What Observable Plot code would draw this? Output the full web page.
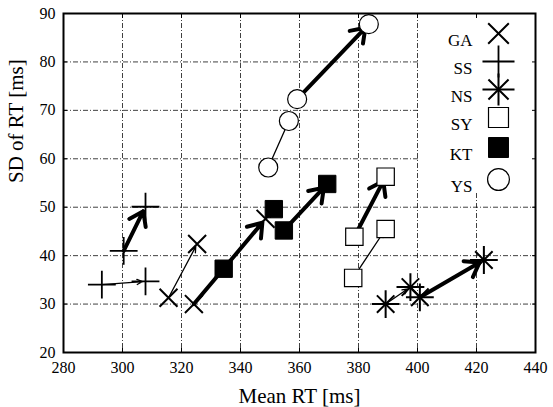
<!DOCTYPE html>
<html><head><meta charset="utf-8">
<script src="https://cdn.jsdelivr.net/npm/d3@7"></script>
<script src="https://cdn.jsdelivr.net/npm/@observablehq/plot@0.6"></script>
<style>body{margin:0;background:#fff}</style>
</head><body><div id="chart"></div>
<script>
// Groups (legend order)
const groups = ["GA", "SS", "NS", "SY", "KT", "YS"];
// Four points per group: thin-arrow start, thin-arrow end, thick-arrow start, thick-arrow end
const gaMean = [315.6, 325.3, 324.2, 348.5];
const gaSD   = [31.3, 42.4, 30.0, 47.6];
const ssMean = [293.0, 307.8, 300.4, 307.8];
const ssSD   = [34.0, 34.7, 41.0, 50.1];
const nsMean = [389.2, 397.6, 400.8, 422.5];
const nsSD   = [30.0, 33.5, 31.4, 39.1];
const syMean = [378.2, 389.2, 378.6, 389.2];
const sySD   = [35.4, 45.5, 43.9, 56.3];
const ktMean = [334.3, 351.3, 354.7, 369.4];
const ktSD   = [37.3, 49.6, 45.2, 54.8];
const ysMean = [349.4, 356.4, 359.2, 383.5];
const ysSD   = [58.2, 67.8, 72.3, 87.8];
const xTicks = [280, 300, 320, 340, 360, 380, 400, 420, 440];
const yTicks = [20, 30, 40, 50, 60, 70, 80, 90];

const means = {GA: gaMean, SS: ssMean, NS: nsMean, SY: syMean, KT: ktMean, YS: ysMean};
const sds   = {GA: gaSD, SS: ssSD, NS: nsSD, SY: sySD, KT: ktSD, YS: ysSD};

const points = groups.flatMap(g => means[g].map((m, i) => ({group: g, mean: m, sd: sds[g][i]})));
const arrows = groups.flatMap(g => [
  {group: g, kind: "thin",  x1: means[g][0], y1: sds[g][0], x2: means[g][1], y2: sds[g][1]},
  {group: g, kind: "thick", x1: means[g][2], y1: sds[g][2], x2: means[g][3], y2: sds[g][3]}
]);

const style = {
  GA: [{symbol: "times", r: 8.2, fill: "none", stroke: "black", strokeWidth: 2}],
  SS: [{symbol: "plus", r: 9, fill: "none", stroke: "black", strokeWidth: 1.8}],
  NS: [{symbol: "plus", r: 9, fill: "none", stroke: "black", strokeWidth: 2},
       {symbol: "times", r: 8, fill: "none", stroke: "black", strokeWidth: 2}],
  SY: [{symbol: "square", r: 9.8, fill: "white", stroke: "black", strokeWidth: 1.2}],
  KT: [{symbol: "square", r: 9.8, fill: "black", stroke: "black", strokeWidth: 1}],
  YS: [{symbol: "circle", r: 9.5, fill: "white", stroke: "black", strokeWidth: 1.2}]
};
const legendScale = 1.15;
const legendDy = [20, 48, 76, 104, 134, 166];

const dotMarks = groups.flatMap(g => style[g].map(s =>
  Plot.dot(points.filter(p => p.group === g), {x: "mean", y: "sd", ...s})));

const legendMarks = groups.flatMap((g, i) => [
  Plot.text([g], {frameAnchor: "top-right", text: d => d, dx: -63, dy: legendDy[i],
    textAnchor: "end", fontSize: 17, fill: "black", style: "letter-spacing:1px"}),
  ...style[g].map(s => Plot.dot([g], {frameAnchor: "top-right", dx: -37, dy: legendDy[i],
    ...s, r: s.r * legendScale}))
]);

function legendBackground(index, scales, values, dims) {
  const r = document.createElementNS("http://www.w3.org/2000/svg", "rect");
  const w = 116;
  r.setAttribute("x", dims.width - dims.marginRight - w);
  r.setAttribute("y", dims.marginTop);
  r.setAttribute("width", w);
  r.setAttribute("height", 180);
  r.setAttribute("fill", "white");
  return r;
}

const grid = {stroke: "black", strokeOpacity: 0.75, strokeWidth: 1, strokeDasharray: "5,2,1,2"};

const chart = Plot.plot({
  width: 553,
  height: 407,
  marginLeft: 63,
  marginRight: 18,
  marginTop: 13,
  marginBottom: 55,
  style: {fontFamily: "'Liberation Serif', 'DejaVu Serif', serif", fontSize: "16px", color: "black", background: "white"},
  x: {domain: [280, 440]},
  y: {domain: [20, 90]},
  marks: [
    Plot.gridX(xTicks.slice(1, -1), grid),
    Plot.gridY(yTicks.slice(1, -1), grid),
    legendBackground,
    Plot.arrow(arrows.filter(a => a.kind === "thin"), {x1: "x1", y1: "y1", x2: "x2", y2: "y2",
      stroke: "black", strokeWidth: 1.3, headLength: 7, headAngle: 50, insetEnd: 3}),
    Plot.arrow(arrows.filter(a => a.kind === "thick"), {x1: "x1", y1: "y1", x2: "x2", y2: "y2",
      stroke: "black", strokeWidth: 4, headLength: 6, headAngle: 70, insetEnd: 5}),
    ...dotMarks,
    ...legendMarks,
    Plot.frame({stroke: "black", strokeWidth: 2}),
    Plot.axisX(xTicks, {anchor: "bottom", tickSize: -4, tickPadding: 13, label: null, fontSize: 16}),
    Plot.axisX(xTicks, {anchor: "top", tickSize: -4, tickFormat: () => "", label: null}),
    Plot.axisY(yTicks, {anchor: "left", tickSize: -4, tickPadding: 12, label: null, fontSize: 16}),
    Plot.axisY(yTicks, {anchor: "right", tickSize: -4, tickFormat: () => "", label: null}),
    Plot.text(["Mean RT [ms]"], {frameAnchor: "bottom", text: d => d, dy: 50, fontSize: 21, fill: "black"}),
    Plot.text(["SD of RT [ms]"], {frameAnchor: "left", text: d => d, dx: -47, rotate: -90, fontSize: 21, fill: "black"})
  ]
});
document.getElementById("chart").append(chart);
</script>
</body></html>
